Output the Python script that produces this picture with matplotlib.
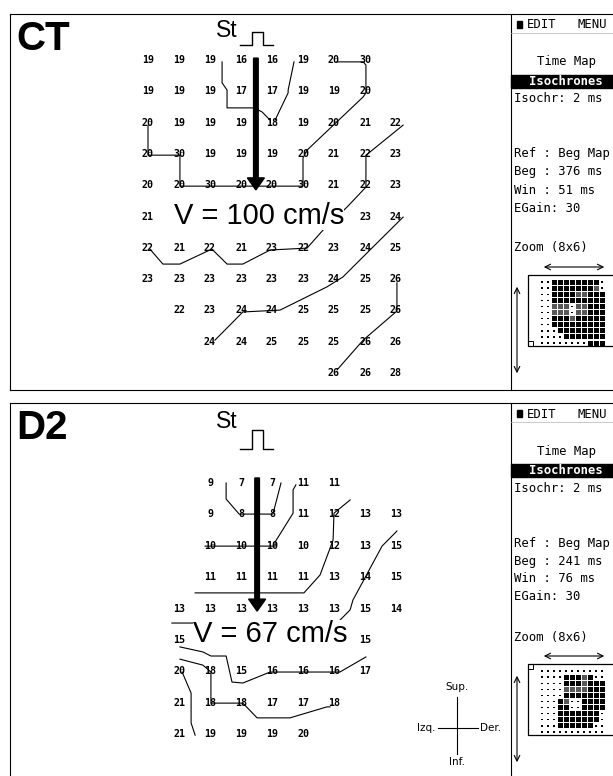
import numpy as np
import matplotlib.pyplot as plt
from matplotlib.patches import Rectangle, FancyArrow

# activation times (ms) per electrode, rows top -> bottom, 9 columns
ct_grid = [
    ["19", "19", "19", "16", "16", "19", "20", "30", ""],
    ["19", "19", "19", "17", "17", "19", "19", "20", ""],
    ["20", "19", "19", "19", "18", "19", "20", "21", "22"],
    ["20", "30", "19", "19", "19", "20", "21", "22", "23"],
    ["20", "20", "30", "20", "20", "30", "21", "22", "23"],
    ["21", "", "", "", "", "", "", "23", "24"],
    ["22", "21", "22", "21", "23", "22", "23", "24", "25"],
    ["23", "23", "23", "23", "23", "23", "24", "25", "26"],
    ["", "22", "23", "24", "24", "25", "25", "25", "26"],
    ["", "", "24", "24", "25", "25", "25", "26", "26"],
    ["", "", "", "", "", "", "26", "26", "28"],
]
d2_grid = [
    ["", "", "9", "7", "7", "11", "11", "", ""],
    ["", "", "9", "8", "8", "11", "12", "13", "13"],
    ["", "", "10", "10", "10", "10", "12", "13", "15"],
    ["", "", "11", "11", "11", "11", "13", "14", "15"],
    ["", "13", "13", "13", "13", "13", "13", "15", "14"],
    ["", "15", "", "", "", "", "", "15", ""],
    ["", "20", "18", "15", "16", "16", "16", "17", ""],
    ["", "21", "18", "18", "17", "17", "18", "", ""],
    ["", "21", "19", "19", "19", "20", "", "", ""],
]

# isochrone lines in grid units (col, row)
ct_lines = [
    [(2.39, 0.06), (2.39, 0.73), (2.55, 0.96), (2.55, 1.53), (3.42, 1.53), (3.68, 1.66), (3.94, 1.92)],
    [(4.71, 0.06), (4.52, 0.96), (4.52, 1.05), (4.10, 1.92)],
    [(0.0, 2.08), (0.0, 3.04), (1.03, 3.04), (1.03, 4.03), (5.0, 4.03), (5.0, 3.13), (5.13, 2.88),
     (6.94, 1.18), (7.03, 1.05), (7.03, 0.16), (6.94, 0.06), (6.10, 0.06)],
    [(8.23, 2.08), (7.16, 2.94), (7.03, 3.04), (7.03, 4.06), (6.42, 4.70), (5.65, 5.43), (5.13, 6.01),
     (3.94, 6.07), (3.06, 6.52), (2.55, 6.52), (2.06, 6.04), (1.03, 6.52), (0.48, 6.52), (0.06, 6.04)],
    [(8.23, 5.02), (7.16, 6.07), (6.29, 6.93), (5.77, 7.25), (4.26, 7.99), (3.06, 8.05), (2.16, 8.95)],
    [(8.03, 7.12), (8.03, 8.02), (6.94, 8.95), (6.10, 9.90)],
]
d2_lines = [
    [(2.52, 0.0), (2.52, 0.51), (2.94, 0.99), (4.03, 0.99), (4.29, 0.0)],
    [(4.77, 0.06), (4.68, 0.22), (4.68, 0.96), (4.10, 1.88), (4.10, 2.01), (1.84, 2.01)],
    [(6.52, 0.54), (6.0, 0.96), (5.97, 1.82), (5.55, 2.93), (5.03, 3.50), (1.52, 3.50)],
    [(8.03, 1.53), (7.55, 2.01), (6.61, 3.73), (6.52, 4.04), (6.10, 4.46), (0.77, 4.46)],
    [(1.03, 5.22), (1.77, 5.38), (2.03, 5.51), (2.52, 5.51), (2.71, 6.34), (3.06, 6.37),
     (3.94, 6.02), (6.19, 6.02), (7.03, 5.54)],
    [(1.03, 5.61), (1.77, 5.80), (2.03, 6.02), (2.03, 7.01), (3.06, 7.01), (3.52, 7.48),
     (4.58, 7.48), (5.77, 7.13), (5.87, 7.13)],
    [(1.10, 6.02), (1.39, 6.69), (1.39, 7.64), (1.52, 8.03)],
]

# zoom mini-map in the side menu ('#' electrode, '+' labelled electrode, '.' empty)
ct_mini = [
    "..########.",
    "..#######+.",
    "..####++###",
    "..#########",
    "..+++.++###",
    "..+++.++###",
    "..###+#####",
    "..#########",
    "...########",
    "....#######",
    "........###",
]
d2_mini = [
    "...........",
    "....###+#..",
    "....###+###",
    "....++++###",
    "....#######",
    "...#+..####",
    "...##..####",
    "...#######.",
    "...#######.",
    "...######..",
    "...........",
]

names = ["CT", "D2"]
speeds = ["V = 100 cm/s", "V = 67 cm/s"]
beg_ms = [376, 241]
win_ms = [51, 76]

X0, DX = 148, 31
panels = [
    dict(grid=ct_grid, lines=ct_lines, mini=ct_mini, off=0, y0=60, dy=31.3,
         arrow=(3.48, -0.06, 4.15), vtxt=(259, 216), st_base=37, p_lo=45, p_hi=32, corner_top=False),
    dict(grid=d2_grid, lines=d2_lines, mini=d2_mini, off=389, y0=483, dy=31.4,
         arrow=(3.52, -0.16, 4.08), vtxt=(270, 634), st_base=428, p_lo=449, p_hi=430, corner_top=True),
]

fig = plt.figure(figsize=(6.13, 7.76), dpi=100)
ax = fig.add_axes([0, 0, 1, 1])
ax.set_xlim(0, 613)
ax.set_ylim(776, 0)
ax.axis("off")

num_font = dict(family="DejaVu Sans Mono", weight="bold", fontsize=7.2, ha="center", va="center")
menu_font = dict(family="DejaVu Sans Mono", fontsize=8.8, ha="left", va="center")

for i, p in enumerate(panels):
    off = p["off"]
    top, bot = 14 + off, (390 if i == 0 else 776)
    # frame
    ax.plot([10, 613], [top, top], color="black", lw=0.8)
    ax.plot([10, 10], [top, bot], color="black", lw=0.8)
    ax.plot([511, 511], [top, bot], color="black", lw=0.8)
    if i == 0:
        ax.plot([10, 613], [bot, bot], color="black", lw=0.8)

    # electrode values
    for r, row in enumerate(p["grid"]):
        for c, v in enumerate(row):
            if v:
                ax.text(X0 + c * DX, p["y0"] + r * p["dy"], v, zorder=3, **num_font)

    # isochrones
    for line in p["lines"]:
        pts = np.array(line)
        ax.plot(X0 + pts[:, 0] * DX, p["y0"] + pts[:, 1] * p["dy"], color="black", lw=0.8, zorder=2)

    # propagation arrow
    ac, r0, r1 = p["arrow"]
    ya, yb = p["y0"] + r0 * p["dy"], p["y0"] + r1 * p["dy"]
    ax.add_patch(FancyArrow(X0 + ac * DX, ya, 0, yb - ya, width=4.6, head_width=17, head_length=12,
                            length_includes_head=True, color="black", zorder=5))

    # velocity label
    ax.text(p["vtxt"][0], p["vtxt"][1], speeds[i], family="Liberation Sans", fontsize=21,
            ha="center", va="center", zorder=4,
            bbox=dict(facecolor="white", edgecolor="none", pad=0))

    # panel name and stimulus mark
    ax.text(16, 39 + off, names[i], family="Liberation Sans", weight="bold", fontsize=29,
            ha="left", va="center")
    ax.text(216, p["st_base"], "St", family="Liberation Sans", fontsize=16.5, ha="left", va="baseline")
    ax.plot([240, 252, 252, 263, 263, 273],
            [p["p_lo"], p["p_lo"], p["p_hi"], p["p_hi"], p["p_lo"], p["p_lo"]], color="black", lw=1)

    # side menu
    ax.add_patch(Rectangle((517, off + 21), 5, 7, color="black"))
    ax.text(527, off + 25, "EDIT", **menu_font)
    ax.text(577, off + 25, "MENU", **menu_font)
    ax.plot([511, 613], [off + 33, off + 33], color="0.7", lw=0.5)
    ax.text(537, off + 62, "Time Map", **menu_font)
    ax.add_patch(Rectangle((511, off + 75), 102, 13, color="black"))
    ax.text(529, off + 81.5, "Isochrones", color="white", weight="bold", **menu_font)
    ax.text(514, off + 99, "Isochr: 2 ms", **menu_font)
    ax.text(514, off + 154, "Ref : Beg Map", **menu_font)
    ax.text(514, off + 172, f"Beg : {beg_ms[i]} ms", **menu_font)
    ax.text(514, off + 190, f"Win : {win_ms[i]} ms", **menu_font)
    ax.text(514, off + 208, "EGain: 30", **menu_font)
    ax.text(514, off + 248, "Zoom (8x6)", **menu_font)
    ax.annotate("", xy=(607, off + 267), xytext=(541, off + 267),
                arrowprops=dict(arrowstyle="<->", lw=0.8, color="black"))
    ax.annotate("", xy=(517, off + 376), xytext=(517, off + 284),
                arrowprops=dict(arrowstyle="<->", lw=0.8, color="black"))
    ax.add_patch(Rectangle((528, off + 275), 100, 71, fill=False, lw=0.9, color="black"))
    cy = off + 275 if p["corner_top"] else off + 341
    ax.add_patch(Rectangle((528, cy), 5, 5, fill=False, lw=0.7, color="black"))
    for r, row in enumerate(p["mini"]):
        for c, ch in enumerate(row):
            mx, my = 542 + 6 * c, off + 282 + 6.1 * r
            if ch == ".":
                ax.add_patch(Rectangle((mx - 0.7, my - 0.7), 1.4, 1.4, color="black", lw=0))
            else:
                col = "black" if ch == "#" else "0.35"
                ax.add_patch(Rectangle((mx - 2.5, my - 2.5), 5.0, 5.0, color=col, lw=0))

# orientation cross
cmp_font = dict(family="Liberation Sans Narrow", fontsize=7.5)
ax.plot([457, 457], [697, 754], color="black", lw=0.8)
ax.plot([438, 478], [728, 728], color="black", lw=0.8)
ax.text(457, 692, "Sup.", ha="center", va="bottom", **cmp_font)
ax.text(457, 757, "Inf.", ha="center", va="top", **cmp_font)
ax.text(436, 728, "Izq.", ha="right", va="center", **cmp_font)
ax.text(480, 728, "Der.", ha="left", va="center", **cmp_font)

fig.savefig("out.png", dpi=100)
